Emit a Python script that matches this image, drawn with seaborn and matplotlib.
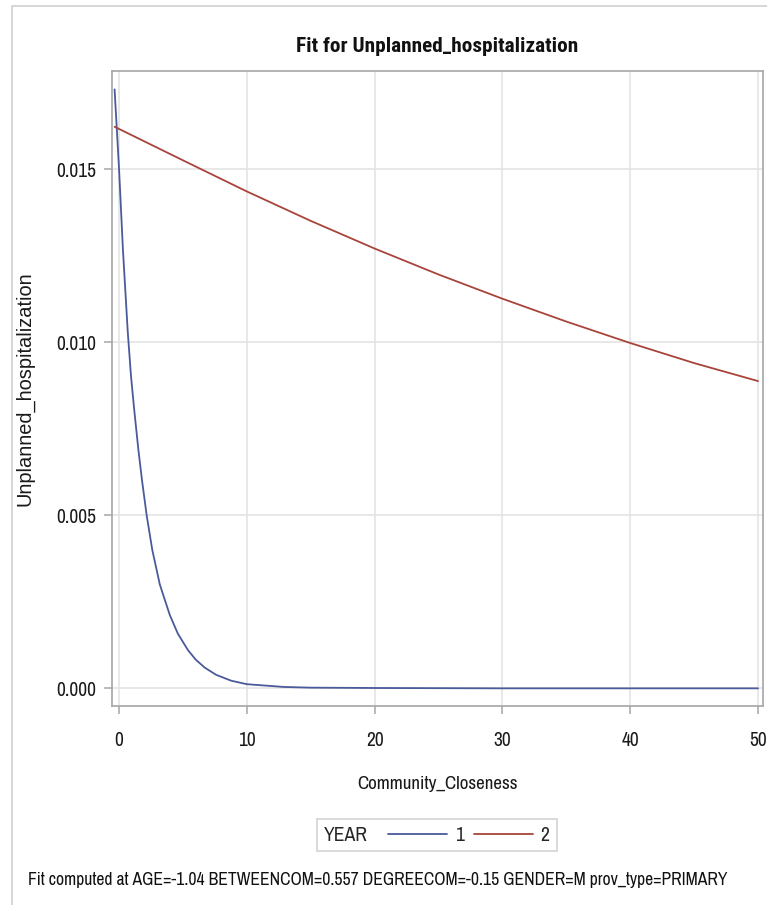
import matplotlib
matplotlib.use("Agg")
from matplotlib import pyplot as plt
from matplotlib import font_manager
from matplotlib.lines import Line2D
from matplotlib.patches import Rectangle
from matplotlib.offsetbox import HPacker
from matplotlib.ticker import FormatStrFormatter
import pandas
import seaborn as sns

# values
x_year1 = [-0.35, 0.0, 0.3, 0.68, 0.94, 1.2, 1.51, 1.8, 2.16, 2.6, 3.19, 3.97,
           4.6, 5.4, 6.0, 6.7, 7.6, 8.78, 10.0, 12.9, 15.0, 20.0, 30.0, 40.0, 50.0]
y_year1 = [0.01731, 0.01500, 0.01270, 0.01030, 0.00900, 0.00800, 0.00690, 0.00600,
           0.00500, 0.00400, 0.00300, 0.00212, 0.00158, 0.00110, 0.00083, 0.00060,
           0.00039, 0.00022, 0.00012, 0.00004, 0.00002, 0.00001, 0.0, 0.0, 0.0]
x_year2 = [-0.35, 5, 10, 15, 20, 25, 30, 35, 40, 45, 50]
y_year2 = [0.01623, 0.01526, 0.01436, 0.01351, 0.01271, 0.01196, 0.01126,
           0.01060, 0.00998, 0.00940, 0.00888]
years = ["1", "2"]
year_colors = ["#4a5a9a", "#A8443A"]
x_ticks = [0, 10, 20, 30, 40, 50]
y_ticks = [0.000, 0.005, 0.010, 0.015]
footnote = "Fit computed at AGE=-1.04 BETWEENCOM=0.557 DEGREECOM=-0.15 GENDER=M prov_type=PRIMARY"


def pick_font(names):
    for n in names:
        try:
            font_manager.findfont(n, fallback_to_default=False)
            return n
        except Exception:
            continue
    return "DejaVu Sans"


def main():
    df = pandas.DataFrame({
        "Community_Closeness": x_year1 + x_year2,
        "Unplanned_hospitalization": y_year1 + y_year2,
        "YEAR": [years[0]] * len(x_year1) + [years[1]] * len(x_year2),
    })

    sns.set_style("white")
    narrow = pick_font(["Archivo Narrow", "Roboto Condensed", "Liberation Sans"])
    bold_narrow = pick_font(["Roboto Condensed", "PT Sans Narrow", "Liberation Sans"])
    regular = pick_font(["Liberation Sans", "DejaVu Sans"])
    # the regular font needs smaller sizes to take the same width
    k = 1.0 if narrow != regular else 0.8
    plt.rcParams["font.family"] = [narrow, "DejaVu Sans"]

    fig = plt.figure(figsize=(7.67, 9.05), dpi=100)
    ax = fig.add_axes([0.1454, 0.2199, 0.8494, 0.7016])

    palette = dict(zip(years, year_colors))
    sns.lineplot(data=df, x="Community_Closeness", y="Unplanned_hospitalization",
                 hue="YEAR", palette=palette, linewidth=1.3, legend=False,
                 ax=ax, estimator=None, sort=True, zorder=3)

    ax.set_xlim(-0.59, 50.39)
    ax.set_ylim(-0.00051, 0.01784)
    ax.set_xticks(x_ticks)
    ax.set_yticks(y_ticks)
    ax.yaxis.set_major_formatter(FormatStrFormatter("%.3f"))
    ax.grid(True, color="#e4e4e4", linewidth=1.2)
    ax.set_axisbelow(True)
    for s in ax.spines.values():
        s.set_visible(True)
        s.set_color("#a6a6a6")
        s.set_linewidth(1.2)
    ax.tick_params(axis="both", which="major", direction="out", length=6,
                   width=1.1, color="#a6a6a6", labelsize=14 * k, pad=5,
                   labelcolor="#1a1a1a", bottom=True, left=True)
    ax.tick_params(axis="x", pad=12)

    ax.set_xlabel("Community_Closeness", fontsize=13.7 * k, color="#1a1a1a", labelpad=19)
    ax.set_ylabel("Unplanned_hospitalization", fontsize=14.4, color="#1a1a1a",
                  family=regular, labelpad=16)
    ax.set_title("Fit for Unplanned_hospitalization", fontsize=15.3 * k,
                 family=[bold_narrow, "DejaVu Sans"],
                 fontweight="bold", color="#111111", pad=14)

    handles = [Line2D([], [], color=c, linewidth=1.3) for c in year_colors]
    leg = fig.legend(handles, years, title="YEAR", ncol=2, loc="center",
                     bbox_to_anchor=(437 / 767, 1 - 835 / 905), fontsize=14.2 * k,
                     title_fontsize=14.2 * k, frameon=True, fancybox=False,
                     handlelength=3.0, handletextpad=0.4, columnspacing=0.5,
                     borderpad=0.35, borderaxespad=0)
    leg.get_frame().set_edgecolor("#c8c8c8")
    leg.get_frame().set_linewidth(1.2)
    leg._legend_box.__class__ = HPacker
    leg._legend_box.align = "center"
    leg._legend_box.sep = 14

    fig.text(28 / 767, 1 - 880 / 905, footnote, fontsize=12.7 * k, color="#111111",
             ha="left", va="center")

    # outer graph border
    fig.add_artist(Rectangle((12 / 767, -0.1), 1.2, 1 - 6 / 905 + 0.1,
                             transform=fig.transFigure, fill=False,
                             edgecolor="#d0d0d0", linewidth=1.2))

    fig.savefig("out.png", dpi=100)


if __name__ == '__main__':
    main()
